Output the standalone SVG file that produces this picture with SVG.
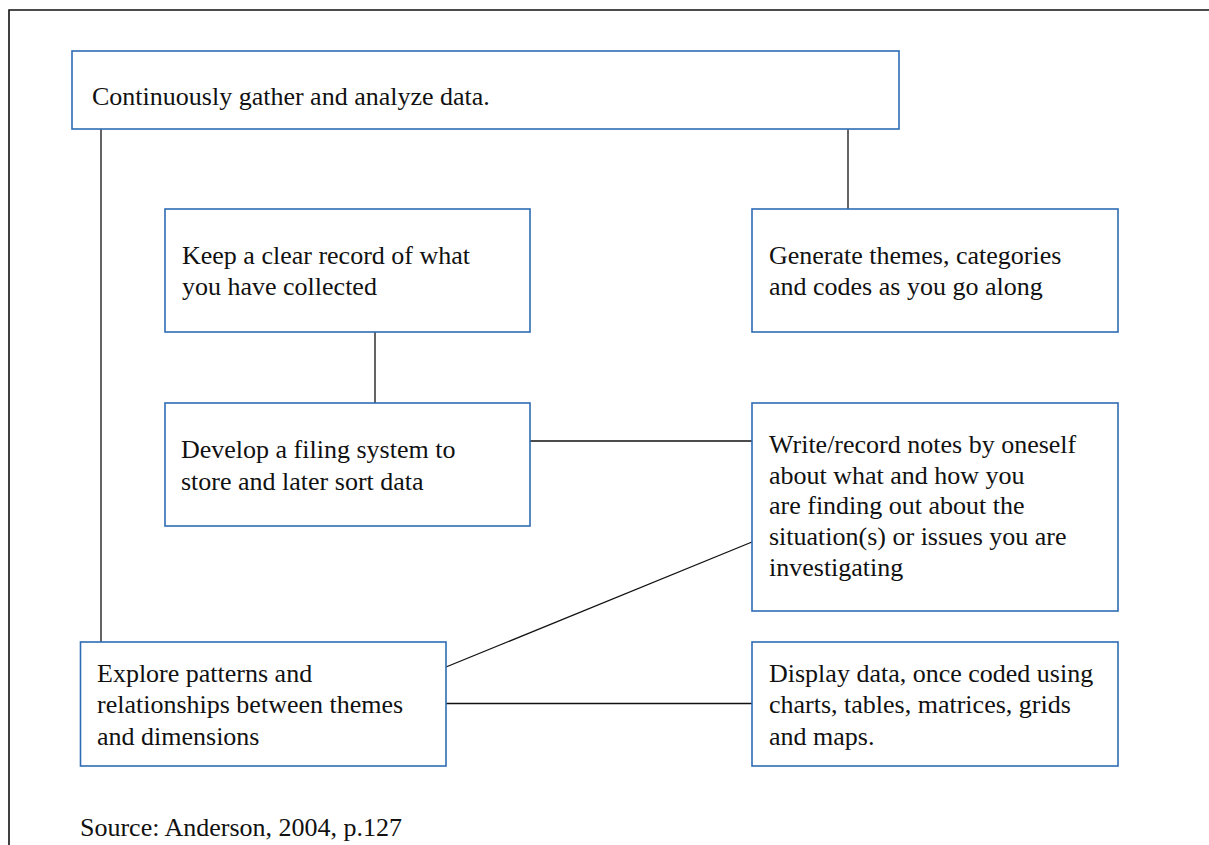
<svg xmlns="http://www.w3.org/2000/svg" width="1209" height="845" viewBox="0 0 1209 845">
<style>
.box{fill:#fff;stroke:#2e6cb5;stroke-width:1.6}
.t{font-family:"Liberation Serif","Times New Roman",serif;font-size:26px;fill:#111}
.c{stroke:#111;stroke-width:1.3;fill:none}
</style>
<rect width="1209" height="845" fill="#fff"/>
<path d="M9 845 V10 H1209" fill="none" stroke="#111" stroke-width="1.6"/>
<g id="connectors">
<line class="c" x1="101" y1="129" x2="101" y2="642"/>
<line class="c" x1="848" y1="129" x2="848" y2="209"/>
<line class="c" x1="375" y1="332" x2="375" y2="403"/>
<line class="c" x1="530" y1="441" x2="752" y2="441"/>
<line class="c" x1="446" y1="667" x2="752" y2="542"/>
<line class="c" x1="446" y1="703.5" x2="752" y2="703.5"/>
</g>
<g id="n1"><rect class="box" x="72" y="51" width="827" height="78"/>
<text class="t" x="92" y="105">Continuously gather and analyze data.</text></g>
<g id="n2"><rect class="box" x="165" y="209" width="365" height="123"/>
<text class="t" x="182" y="264">Keep a clear record of what</text>
<text class="t" x="182" y="295">you have collected</text></g>
<g id="n3"><rect class="box" x="752" y="209" width="366" height="123"/>
<text class="t" x="769" y="264">Generate themes, categories</text>
<text class="t" x="769" y="295">and codes as you go along</text></g>
<g id="n4"><rect class="box" x="165" y="403" width="365" height="123"/>
<text class="t" x="181" y="458">Develop a filing system to</text>
<text class="t" x="181" y="490">store and later sort data</text></g>
<g id="n5"><rect class="box" x="752" y="403" width="366" height="208"/>
<text class="t" x="769" y="453">Write/record notes by oneself</text>
<text class="t" x="769" y="484">about what and how you</text>
<text class="t" x="769" y="514">are finding out about the</text>
<text class="t" x="769" y="545">situation(s) or issues you are</text>
<text class="t" x="769" y="576">investigating</text></g>
<g id="n6"><rect class="box" x="80.5" y="642" width="365.5" height="124"/>
<text class="t" x="97" y="682">Explore patterns and</text>
<text class="t" x="97" y="713">relationships between themes</text>
<text class="t" x="97" y="745">and dimensions</text></g>
<g id="n7"><rect class="box" x="752" y="642" width="366" height="124"/>
<text class="t" x="769" y="682">Display data, once coded using</text>
<text class="t" x="769" y="713">charts, tables, matrices, grids</text>
<text class="t" x="769" y="745">and maps.</text></g>
<text class="t" x="80" y="836">Source: Anderson, 2004, p.127</text>
</svg>
